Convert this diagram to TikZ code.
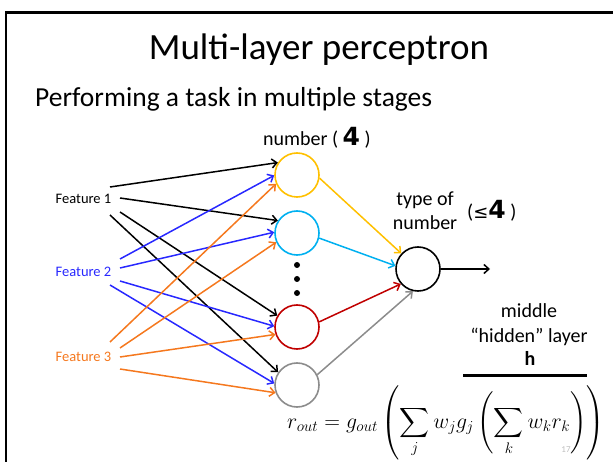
\RequirePackage{fix-cm}
\documentclass[tikz,border=0pt]{standalone}
\usepackage{amsmath}
\usepackage{fontspec}
\setmainfont{Carlito}
\newfontfamily\digitfont{DejaVu Sans}
\usetikzlibrary{arrows.meta}

\definecolor{unitgold}{RGB}{255,192,0}
\definecolor{unitcyan}{RGB}{0,176,240}
\definecolor{unitred}{RGB}{192,0,0}
\definecolor{unitgray}{RGB}{140,140,140}
\definecolor{featblue}{RGB}{40,40,255}
\definecolor{featorange}{RGB}{245,120,30}
\definecolor{pagenum}{RGB}{190,190,190}

\newcommand{\blockfour}{{\digitfont\bfseries\fontsize{25}{28}\selectfont 4}}

\begin{document}
\begin{tikzpicture}[x=1pt,y=-1pt,
  unit/.style={circle, draw, line width=1.6pt, minimum size=44pt, inner sep=0pt},
  conn/.style={line width=1.5pt, -{Straight Barb[length=5pt,width=9pt]}},
  feat/.style={anchor=base, font=\fontsize{14.5}{17}\selectfont},
  lbl/.style={font=\fontsize{20}{24}\selectfont}]
\useasboundingbox (0,0) rectangle (613,462);

% slide frame
\draw[line width=2.5pt] (6,470) -- (6,12.5) -- (620,12.5);

% headings
\node[anchor=base, font=\fontsize{37}{42}\selectfont, inner sep=0pt] (title) at (319,60) {Multi-layer perceptron};
\node[anchor=base west, font=\fontsize{27.5}{32}\selectfont, inner sep=0pt] (subtitle) at (35,107) {Performing a task in multiple stages};

% hidden units and output unit
\node[unit, draw=unitgold] (hy) at (297,175) {};
\node[unit, draw=unitcyan] (hc) at (297,233) {};
\node[unit, draw=unitred]  (hr) at (297,327) {};
\node[unit, draw=unitgray] (hg) at (297,385) {};
\node[unit, draw=black]    (out) at (418,269) {};

% vertical ellipsis between hidden units
\foreach \yy/\nm in {265/d1,279/d2,293/d3}
  \node[circle, fill=black, inner sep=0pt, minimum size=6pt] (\nm) at (297,\yy) {};

% input features
\node[feat, text=black]      (f1) at (83.5,203.5) {Feature 1};
\node[feat, text=featblue]   (f2) at (83.5,276.5) {Feature 2};
\node[feat, text=featorange] (f3) at (83.5,361.5) {Feature 3};

% starting points of the input connections
\coordinate (a1) at (110,187);
\coordinate (a2) at (120,198);
\coordinate (a3) at (120,212);
\coordinate (a4) at (110,215);
\coordinate (b1) at (120,259);
\coordinate (b2) at (120,268);
\coordinate (b3) at (120,281);
\coordinate (b4) at (110,285);
\coordinate (c1) at (110,342);
\coordinate (c2) at (120,348);
\coordinate (c3) at (120,357);
\coordinate (c4) at (120,369);

% input -> hidden
\draw[conn, black] (a1) -- (hy.147);
\draw[conn, black] (a2) -- (hc.147);
\draw[conn, black] (a3) -- (hr.150);
\draw[conn, black] (a4) -- (hg.146);
\draw[conn, featblue] (b1) -- (hy.181);
\draw[conn, featblue] (b2) -- (hc.178);
\draw[conn, featblue] (b3) -- (hr.178);
\draw[conn, featblue] (b4) -- (hg.176);
\draw[conn, featorange] (c1) -- (hy.203);
\draw[conn, featorange] (c2) -- (hc.204);
\draw[conn, featorange] (c3) -- (hr.199);
\draw[conn, featorange] (c4) -- (hg.200);

% hidden -> output
\draw[conn, unitgold] (hy.-8)  -- (out.137);
\draw[conn, unitcyan] (hc.-13) -- (out.172);
\draw[conn, unitred]  (hr.13)  -- (out.221);
\draw[conn, unitgray] (hg.27)  -- (out.257);

% output connection
\coordinate (o1) at (490,269);
\draw[conn, black] (out.east) -- (o1);

% unit labels
\node[lbl, anchor=base west, inner sep=0pt] (numlbl) at (263,146)
  {number ( \blockfour\ )};
\node[lbl, anchor=base, inner sep=0pt] (type1) at (425,206) {type of};
\node[lbl, anchor=base, inner sep=0pt] (type2) at (425,230) {number};
\node[lbl, anchor=base west, inner sep=0pt] (bound) at (467,219)
  {({\digitfont\fontsize{18}{20}\selectfont ≤}\blockfour\ )};

% hidden layer label
\node[lbl, anchor=base, inner sep=0pt] (mid1) at (529,317) {middle};
\node[lbl, anchor=base, inner sep=0pt] (mid2) at (529,342) {“hidden” layer};
\node[lbl, anchor=base, inner sep=0pt, font=\fontsize{20}{24}\selectfont\bfseries] (hvec) at (530,365) {h};
\coordinate (bar1) at (463,375);
\coordinate (bar2) at (587,375);
\draw[line width=3pt] (bar1) -- (bar2);

% output equation
\node[anchor=base west, inner sep=0pt, font=\fontsize{21.8}{26}\selectfont] (eqn) at (287,428)
  {$\displaystyle r_{out} = g_{out}\left(\sum_j w_j g_j\left(\sum_k w_k r_k\right)\right)$};

% slide number
\node[anchor=base, text=pagenum, font=\fontsize{9}{10}\selectfont, inner sep=0pt] (pg) at (566,452) {17};
\end{tikzpicture}
\end{document}
